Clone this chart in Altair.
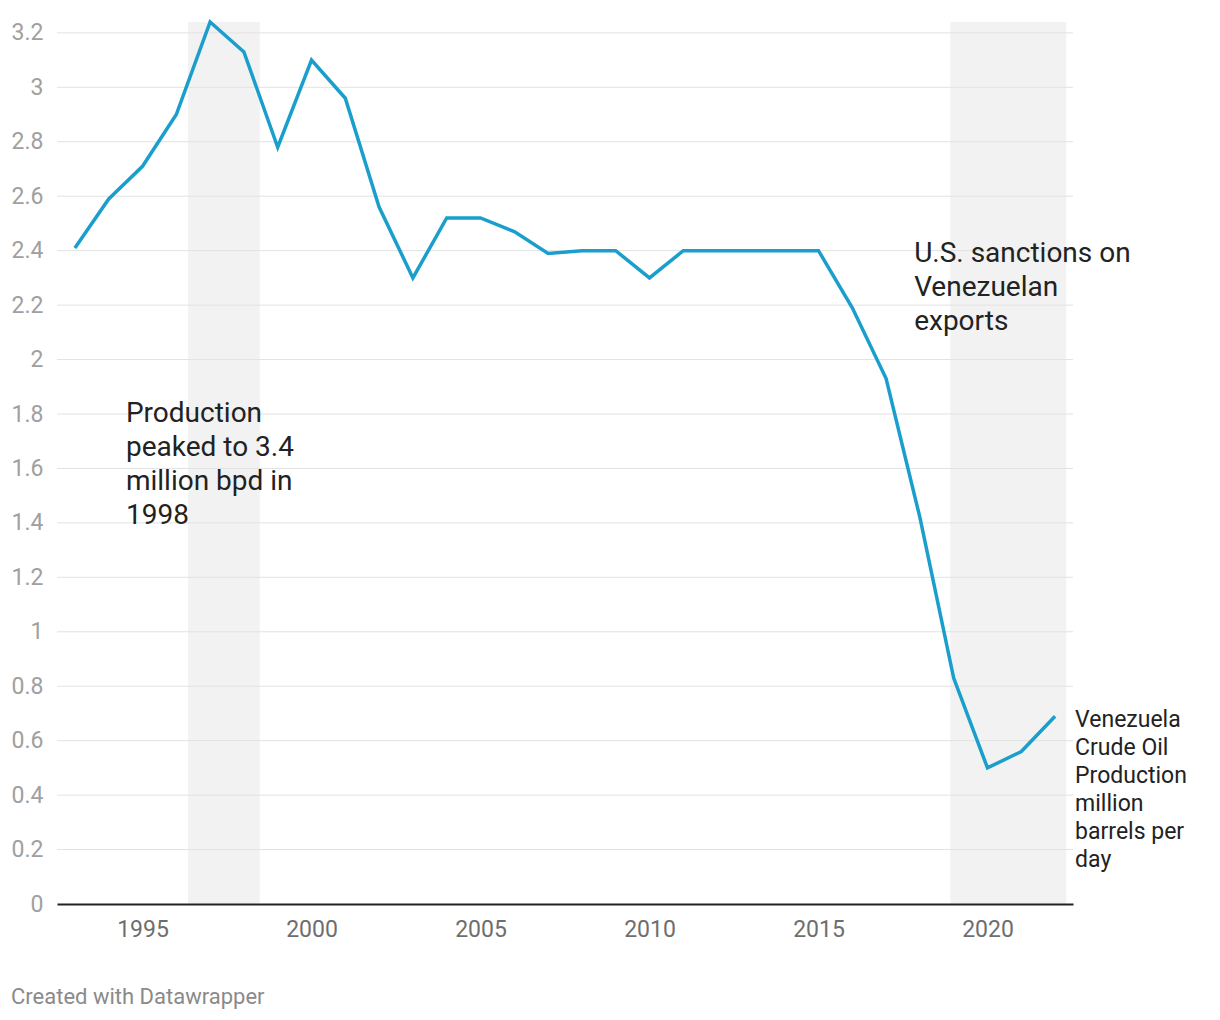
import altair as alt
import pandas as pd

years = list(range(1993, 2023))
production = [2.41, 2.59, 2.71, 2.90, 3.24, 3.13, 2.78, 3.10, 2.96, 2.56,
              2.30, 2.52, 2.52, 2.47, 2.39, 2.40, 2.40, 2.30, 2.40, 2.40,
              2.40, 2.40, 2.40, 2.19, 1.93, 1.42, 0.83, 0.50, 0.56, 0.69]

shade_start = [1996.35, 2018.9]
shade_end = [1998.47, 2022.33]

x_ticks = [1995, 2000, 2005, 2010, 2015, 2020]
y_ticks = [0, 0.2, 0.4, 0.6, 0.8, 1, 1.2, 1.4, 1.6, 1.8, 2, 2.2, 2.4, 2.6, 2.8, 3, 3.2]

note_x = [1994.51, 2017.83]
note_y = [1.772, 2.359]
note_text = [["Production", "peaked to 3.4", "million bpd in", "1998"],
             ["U.S. sanctions on", "Venezuelan", "exports"]]

end_label = ["Venezuela", "Crude Oil", "Production", "million", "barrels per", "day"]
footer = "Created with Datawrapper"

FONT = "Roboto"
X_DOMAIN = [1992.47, 2022.53]
Y_DOMAIN = [0, 3.24]

df = pd.DataFrame({"year": years, "value": production})
shades = pd.DataFrame({"start": shade_start, "end": shade_end})
grid_df = pd.DataFrame({"y": y_ticks[1:]})
notes = pd.DataFrame({"x": note_x, "y": note_y, "text": note_text})
endlab = pd.DataFrame({"x": [years[-1]], "y": [production[-1]], "text": [end_label]})

xscale = alt.Scale(domain=X_DOMAIN, nice=False, zero=False)
yscale = alt.Scale(domain=Y_DOMAIN, nice=False)

xaxis = alt.Axis(values=x_ticks, format="d", grid=False, ticks=False,
                 domain=True, domainColor="#222222", domainWidth=2,
                 labelFont=FONT, labelFontSize=23, labelColor="#6e6e6e",
                 labelPadding=14, title=None, zindex=1)
yaxis = alt.Axis(values=y_ticks, format="~g", grid=False, ticks=False, domain=False,
                 labelFont=FONT, labelFontSize=23, labelColor="#a0a0a0",
                 labelPadding=14, title=None)

rects = alt.Chart(shades).mark_rect(color="#f2f2f2").encode(
    x=alt.X("start:Q", scale=xscale, axis=xaxis),
    x2="end:Q",
    y=alt.value(0),
    y2=alt.value(882),
)

grid_rules = alt.Chart(grid_df).mark_rule(color="#e2e2e2", strokeWidth=1).encode(
    y=alt.Y("y:Q", scale=yscale, axis=yaxis),
    x=alt.value(0),
    x2=alt.value(1016),
)

line = alt.Chart(df).mark_line(color="#1a9fcd", strokeWidth=3.5).encode(
    x=alt.X("year:Q", scale=xscale),
    y=alt.Y("value:Q", scale=yscale),
)

note_marks = alt.Chart(notes).mark_text(
    align="left", baseline="alphabetic", font=FONT, fontSize=28,
    lineHeight=34, color="#222222"
).encode(
    x=alt.X("x:Q", scale=xscale),
    y=alt.Y("y:Q", scale=yscale),
    text="text",
)

end_mark = alt.Chart(endlab).mark_text(
    align="left", baseline="alphabetic", font=FONT, fontSize=23,
    lineHeight=28, color="#222222", dx=20, dy=11
).encode(
    x=alt.X("x:Q", scale=xscale),
    y=alt.Y("y:Q", scale=yscale),
    text="text",
)

footer_mark = alt.Chart(pd.DataFrame({"t": [footer]})).mark_text(
    align="left", baseline="middle", font=FONT, fontSize=22, color="#8a8a8a"
).encode(
    x=alt.value(-46),
    y=alt.value(975),
    text="t:N",
)

chart = alt.layer(rects, grid_rules, line, note_marks, end_mark, footer_mark).properties(
    width=1016,
    height=882,
    autosize=alt.AutoSizeParams(type="none"),
    padding={"left": 57, "top": 22, "right": 147, "bottom": 116},
    background="white",
).configure_view(stroke=None)

chart.save("out.html", embed_options={"renderer": "svg", "actions": False})
